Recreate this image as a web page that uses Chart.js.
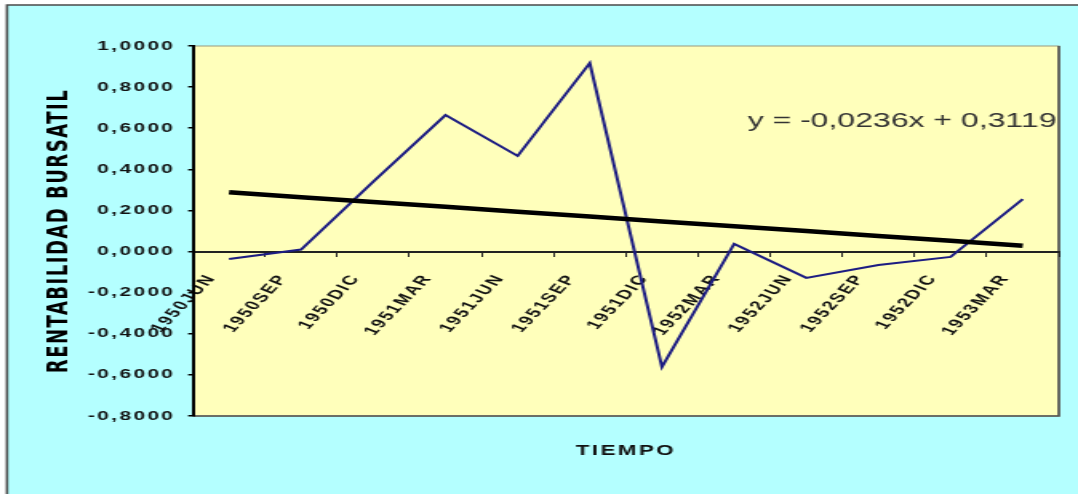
<!DOCTYPE html>
<html>
<head>
<meta charset="utf-8">
<script src="https://cdn.jsdelivr.net/npm/chart.js@4.4.1/dist/chart.umd.min.js"></script>
<style>
  html, body { margin: 0; padding: 0; background: #fff; overflow: hidden; }
  #wrap { width: 1078px; height: 494px; overflow: hidden; }
  /* the chart is drawn on a narrower canvas and widened horizontally */
  #c { display: block; transform: scaleX(1.59941); transform-origin: 0 0; }
</style>
</head>
<body>
<div id="wrap"><canvas id="c" width="674" height="494"></canvas></div>
<script>
// Periodos trimestrales
const periodos = ['1950JUN', '1950SEP', '1950DIC', '1951MAR', '1951JUN', '1951SEP',
                  '1951DIC', '1952MAR', '1952JUN', '1952SEP', '1952DIC', '1953MAR'];

// Rentabilidad bursátil por periodo
const rentabilidad = [-0.036, 0.010, 0.340, 0.664, 0.465, 0.917,
                      -0.561, 0.037, -0.128, -0.065, -0.026, 0.255];

// Recta de tendencia lineal: y = pendiente * x + intercepto (x = 1..12)
const pendiente = -0.0236;
const intercepto = 0.3119;

// Eje vertical
const yMin = -0.8;
const yMax = 1.0;
const yPaso = 0.2;

const tendencia = periodos.map((_, i) => pendiente * (i + 1) + intercepto);

const coma = (v, d) => {
  let s = v.toFixed(d);
  if (/^-0[.,]0+$/.test(s)) s = s.slice(1);
  return s.replace('.', ',');
};
const ecuacion = 'y = ' + coma(pendiente, 4) + 'x + ' + coma(intercepto, 4);

const fuenteTxt = '"Liberation Sans", Arial, Helvetica, sans-serif';

const fondo = {
  id: 'fondo',
  beforeDraw(chart) {
    const { ctx, chartArea: a, width, height } = chart;
    ctx.save();
    ctx.letterSpacing = '0px';
    ctx.fillStyle = '#ffffff';
    ctx.fillRect(0, 0, width, height);
    // área del gráfico
    ctx.fillStyle = '#b4ffff';
    ctx.fillRect(4.4, 5, width, height);
    ctx.strokeStyle = '#4a4a4a';
    ctx.lineWidth = 1.6;
    ctx.beginPath();
    ctx.moveTo(4.4, height);
    ctx.lineTo(4.4, 5);
    ctx.lineTo(width, 5);
    ctx.stroke();
    // área de trazado
    ctx.fillStyle = '#ffffbb';
    ctx.fillRect(a.left, a.top, a.width, a.height);
    ctx.strokeStyle = '#9a9a80';
    ctx.lineWidth = 1;
    ctx.strokeRect(a.left, a.top, a.width, a.height);
    ctx.strokeStyle = '#505050';
    ctx.lineWidth = 1.6;
    ctx.beginPath();
    ctx.moveTo(a.right, a.top);
    ctx.lineTo(a.right, a.bottom);
    ctx.lineTo(a.left, a.bottom);
    ctx.stroke();
    ctx.restore();
    ctx.letterSpacing = '1.5px';
  },
  afterDraw(chart) {
    const { ctx, chartArea: a } = chart;
    ctx.save();
    ctx.letterSpacing = '0px';
    ctx.font = '20px ' + fuenteTxt;
    ctx.fillStyle = '#333333';
    ctx.textAlign = 'right';
    ctx.textBaseline = 'alphabetic';
    ctx.fillText(ecuacion, a.right - 1.5, 127);
    ctx.restore();
    ctx.letterSpacing = '0px';
  }
};

new Chart(document.getElementById('c'), {
  type: 'line',
  data: {
    labels: periodos,
    datasets: [
      {
        label: 'Tendencia',
        data: tendencia,
        borderColor: '#000000',
        borderWidth: 4.5,
        pointRadius: 0,
        tension: 0,
        xAxisID: 'x',
        yAxisID: 'y'
      },
      {
        label: 'Rentabilidad bursátil',
        data: rentabilidad,
        borderColor: '#1c1c82',
        borderWidth: 2,
        pointRadius: 0,
        tension: 0,
        xAxisID: 'x',
        yAxisID: 'y'
      }
    ]
  },
  options: {
    responsive: false,
    animation: false,
    devicePixelRatio: 1,
    layout: { padding: { left: 0, top: 46, right: 12, bottom: 0 } },
    plugins: { legend: { display: false }, tooltip: { enabled: false } },
    scales: {
      x: {
        type: 'category',
        position: { y: 0 },
        offset: true,
        grid: { offset: true, drawOnChartArea: false, drawTicks: true, tickLength: 4, color: '#222', lineWidth: 1 },
        border: { display: true, color: '#222', width: 2 },
        ticks: {
          autoSkip: false, minRotation: 58, maxRotation: 58,
          padding: 16, labelOffset: -11, color: '#111',
          font: { family: fuenteTxt, size: 13, weight: 'bold' }
        }
      },
      xTitulo: {
        type: 'category',
        position: 'bottom',
        labels: periodos,
        grid: { display: false },
        border: { display: false },
        ticks: { display: false },
        title: {
          display: true, text: 'TIEMPO', color: '#111',
          font: { family: fuenteTxt, size: 14, weight: 'bold' },
          padding: { top: 0, bottom: 34 }
        },
        afterFit(s) { s.height = 78; }
      },
      y: {
        type: 'linear',
        position: 'left',
        min: yMin,
        max: yMax,
        grid: { drawOnChartArea: false, drawTicks: true, tickLength: 3, color: '#000', lineWidth: 1.5 },
        border: { display: true, color: '#000', width: 2 },
        ticks: {
          stepSize: yPaso, padding: 8, color: '#111',
          font: { family: fuenteTxt, size: 13, weight: 'bold' },
          callback: v => coma(v, 4)
        },
        title: {
          display: true, text: 'RENTABILIDAD BURSATIL', color: '#000',
          font: { family: '"DejaVu Sans", sans-serif', size: 18, weight: 'bold' },
          padding: { top: 27, bottom: 0 }
        },
        afterFit(s) { s.width = 120.6; }
      }
    }
  },
  plugins: [fondo]
});
</script>
</body>
</html>
